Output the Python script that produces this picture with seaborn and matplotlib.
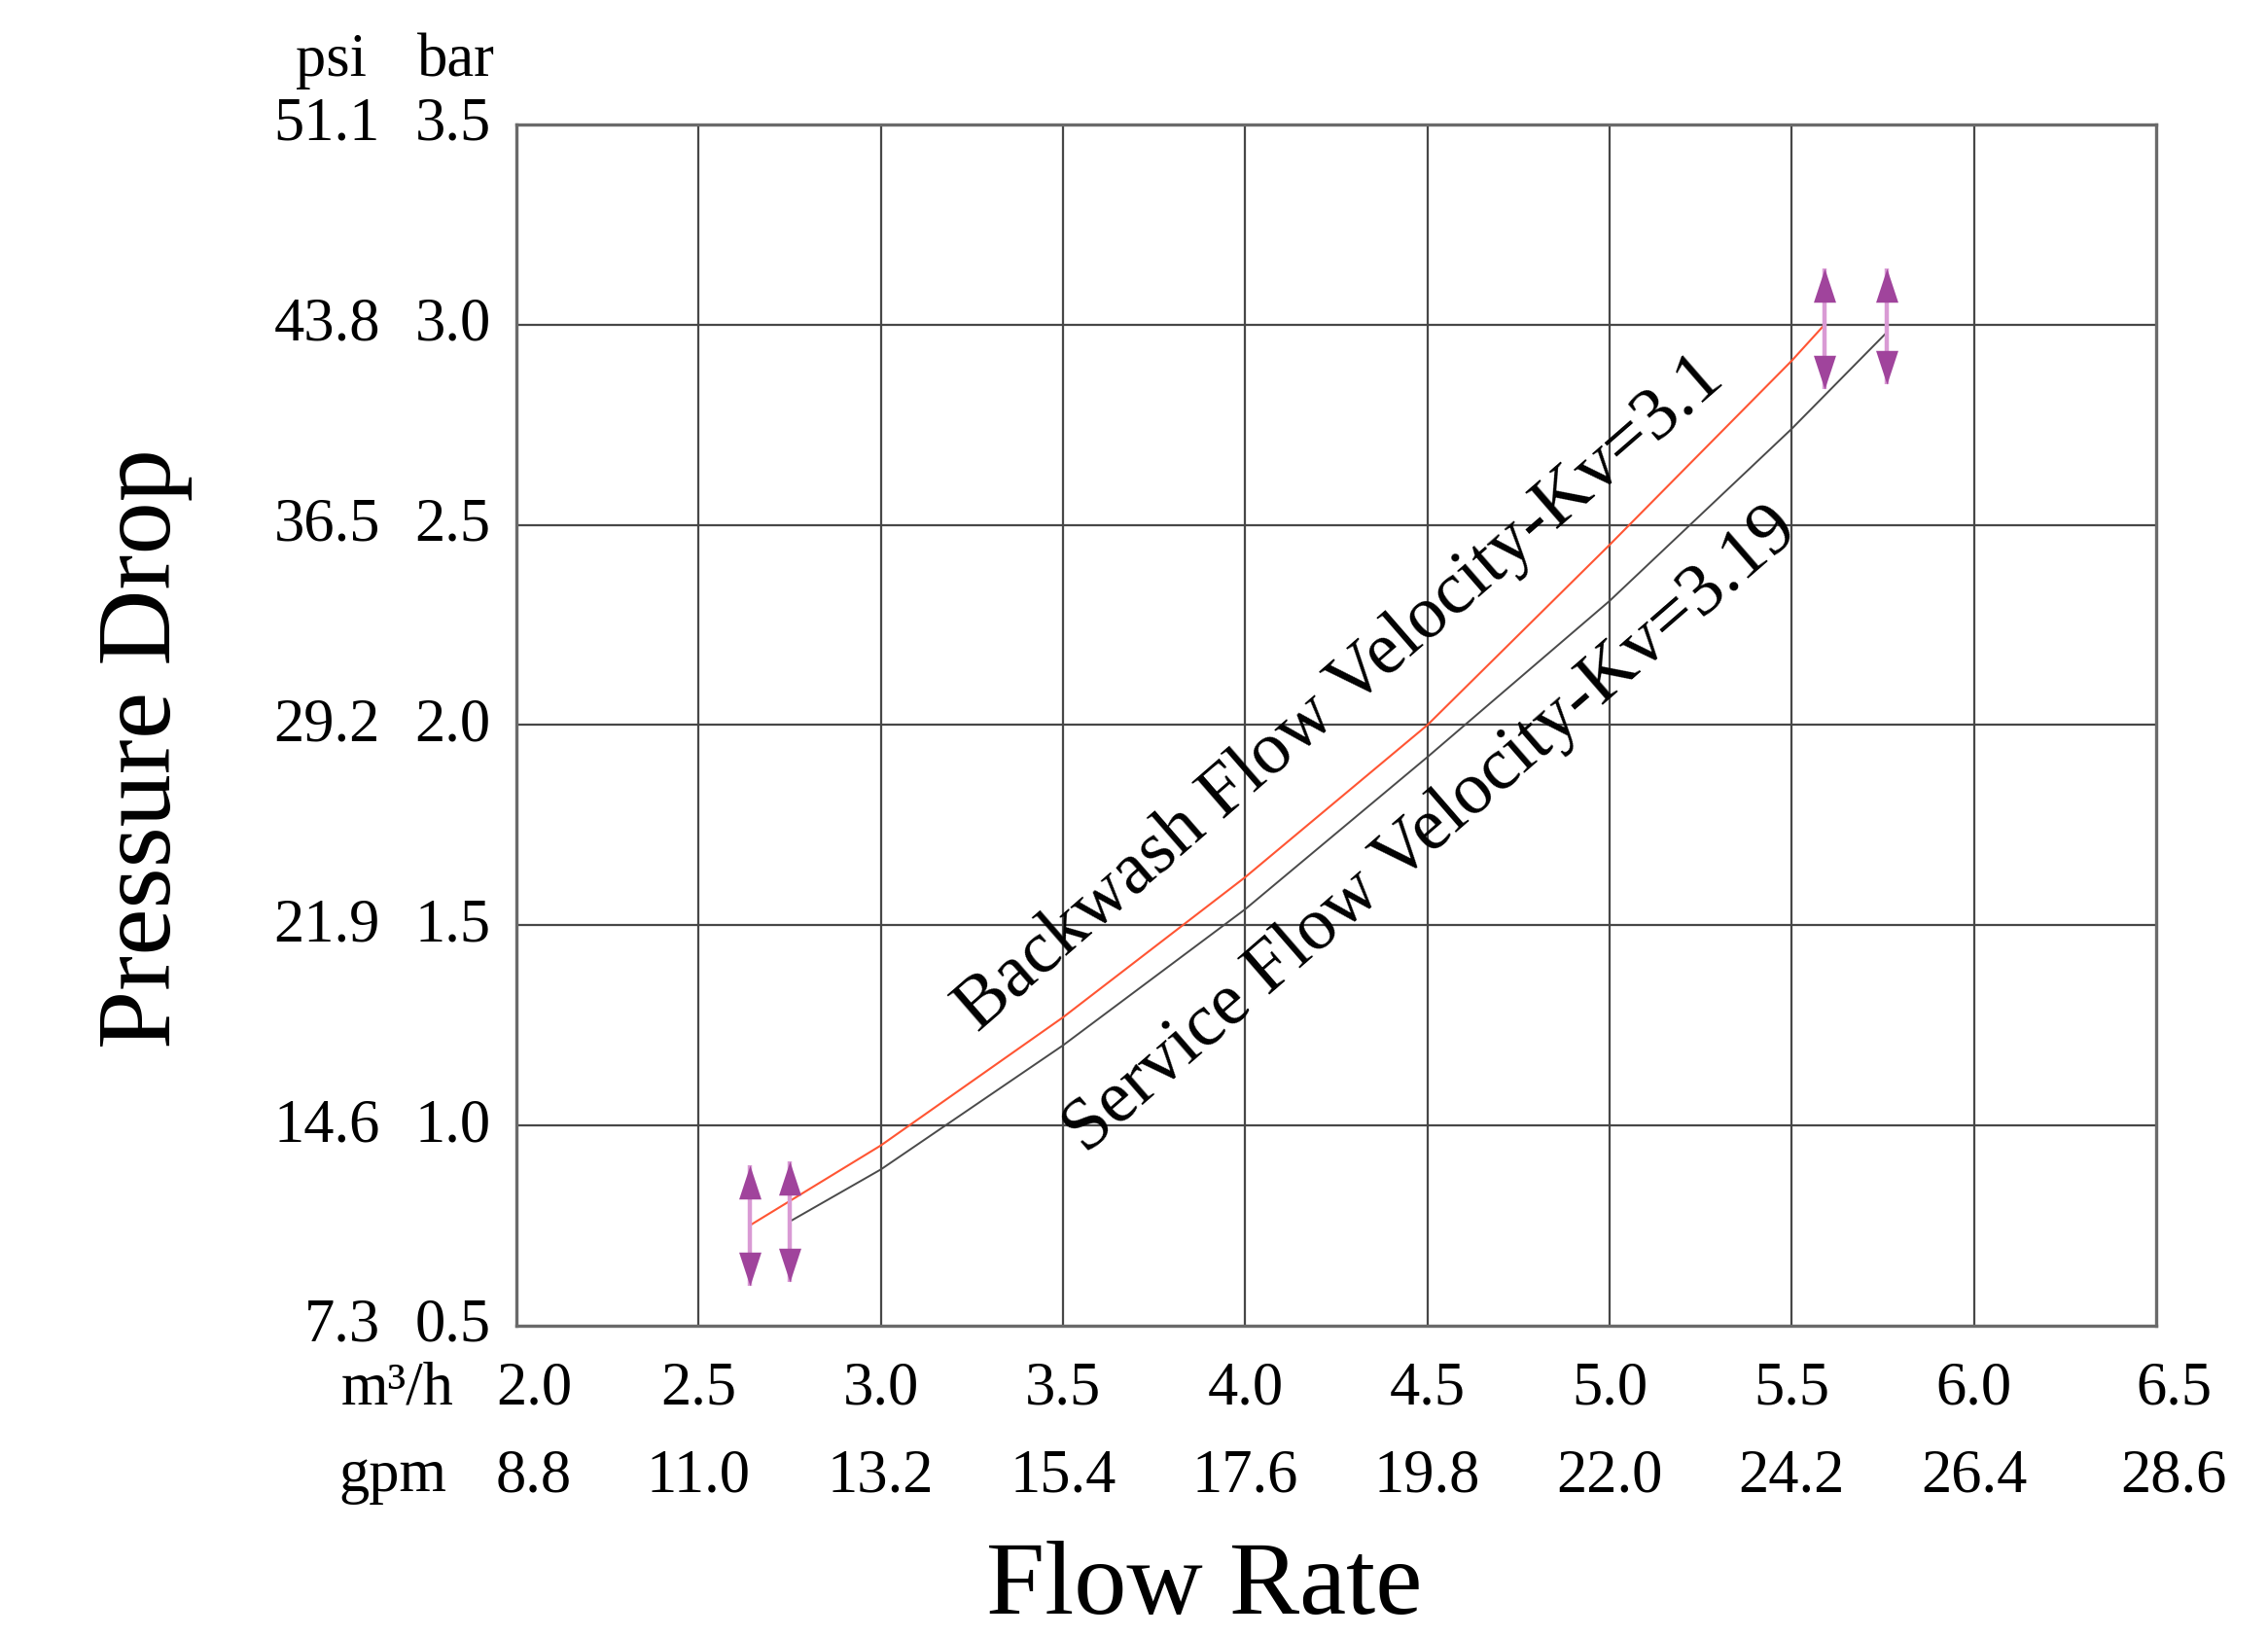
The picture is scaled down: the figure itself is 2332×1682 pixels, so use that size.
import matplotlib
matplotlib.use('Agg')
import matplotlib.pyplot as plt
import matplotlib.transforms as mtransforms
import pandas as pd
import seaborn as sns

# axis ticks
m3h_ticks = [2.0, 2.5, 3.0, 3.5, 4.0, 4.5, 5.0, 5.5, 6.0, 6.5]
m3h_labels = ['2.0', '2.5', '3.0', '3.5', '4.0', '4.5', '5.0', '5.5', '6.0', '6.5']
gpm_labels = ['8.8', '11.0', '13.2', '15.4', '17.6', '19.8', '22.0', '24.2', '26.4', '28.6']
bar_ticks = [0.5, 1.0, 1.5, 2.0, 2.5, 3.0, 3.5]
bar_labels = ['0.5', '1.0', '1.5', '2.0', '2.5', '3.0', '3.5']
psi_labels = ['7.3', '14.6', '21.9', '29.2', '36.5', '43.8', '51.1']

# curves (m3/h vs bar)
backwash_flow = [2.64, 3.0, 3.5, 4.0, 4.5, 5.0, 5.5, 5.59]
backwash_drop = [0.75, 0.95, 1.27, 1.62, 2.00, 2.45, 2.91, 3.00]
service_flow = [2.75, 3.0, 3.5, 4.0, 4.5, 5.0, 5.5, 5.76]
service_drop = [0.76, 0.89, 1.20, 1.54, 1.92, 2.31, 2.74, 2.98]

# range arrows at the curve ends
arrow_flow = [2.64, 2.75, 5.59, 5.76]
arrow_low = [0.60, 0.61, 2.84, 2.85]
arrow_high = [0.90, 0.91, 3.14, 3.14]

sns.set_style('white')
plt.rcParams['font.family'] = ['Liberation Serif', 'DejaVu Serif']
plt.rcParams['text.color'] = 'black'

fig = plt.figure(figsize=(23.32, 16.83), dpi=100)
ax = fig.add_axes([0.2277, 0.1896, 0.723, 0.7338])

grid_col = '#474747'
for x in m3h_ticks[1:-1]:
    ax.axvline(x, color=grid_col, lw=1.6, zorder=1)
for y in bar_ticks[1:-1]:
    ax.axhline(y, color=grid_col, lw=1.6, zorder=1)

bw = pd.DataFrame({'flow': backwash_flow, 'drop': backwash_drop})
sv = pd.DataFrame({'flow': service_flow, 'drop': service_drop})
sns.lineplot(data=bw, x='flow', y='drop', color='#ff5533', lw=1.5, sort=False, ax=ax, zorder=3)
sns.lineplot(data=sv, x='flow', y='drop', color='#4a4a4a', lw=1.4, sort=False, ax=ax, zorder=3)

# double headed arrows
head_up = [(0, 0), (-0.33, -1), (0.33, -1), (0, 0)]
head_dn = [(0, 0), (-0.33, 1), (0.33, 1), (0, 0)]
for x, lo, hi in zip(arrow_flow, arrow_low, arrow_high):
    ax.plot([x, x], [lo, hi], color='#d99ad4', lw=3.2, zorder=4, solid_capstyle='butt')
    ax.plot(x, hi, marker=head_up, ms=50, color='#a0449c', mew=0, zorder=5)
    ax.plot(x, lo, marker=head_dn, ms=50, color='#a0449c', mew=0, zorder=5)

ax.set_xlim(2.0, 6.5)
ax.set_ylim(0.5, 3.5)
ax.set_xticks([])
ax.set_yticks([])
ax.set_xlabel('')
ax.set_ylabel('')
for s in ax.spines.values():
    s.set_visible(True)
    s.set_color('#6a6a6a')
    s.set_linewidth(2.4)

fs = 45
bx = mtransforms.blended_transform_factory(ax.transData, ax.transAxes)
by = mtransforms.blended_transform_factory(ax.transAxes, ax.transData)
shift = mtransforms.ScaledTranslation(0.18, 0, fig.dpi_scale_trans)
for i, (x, a, b) in enumerate(zip(m3h_ticks, m3h_labels, gpm_labels)):
    tr = bx + shift if i in (0, len(m3h_ticks) - 1) else bx
    ax.text(x, -0.052, a, transform=tr, ha='center', va='center', fontsize=fs)
    ax.text(x, -0.125, b, transform=tr, ha='center', va='center', fontsize=fs)
ax.text(-0.0724, -0.052, 'm³/h', transform=ax.transAxes, ha='center', va='center', fontsize=fs)
ax.text(-0.0753, -0.125, 'gpm', transform=ax.transAxes, ha='center', va='center', fontsize=fs)

for y, b, p in zip(bar_ticks, bar_labels, psi_labels):
    ax.text(-0.0155, y, b, transform=by, ha='right', va='center', fontsize=fs)
    ax.text(-0.083, y, p, transform=by, ha='right', va='center', fontsize=fs)
ax.text(-0.1127, 1.053, 'psi', transform=ax.transAxes, ha='center', va='center', fontsize=fs)
ax.text(-0.0368, 1.053, 'bar', transform=ax.transAxes, ha='center', va='center', fontsize=fs)

ax.text(4.26, 2.08, 'Backwash Flow Velocity-Kv=3.1', rotation=41, rotation_mode='anchor',
        ha='center', va='center', fontsize=55, zorder=6)
ax.text(4.51, 1.74, 'Service Flow Velocity-Kv=3.19', rotation=41, rotation_mode='anchor',
        ha='center', va='center', fontsize=55, zorder=6)

fig.text(0.0639, 0.5425, 'Pressure Drop', rotation=90, ha='center', va='center', fontsize=78)
fig.text(0.531, 0.0297, 'Flow Rate', ha='center', va='center', fontsize=78)

fig.savefig('out.png', dpi=100)
